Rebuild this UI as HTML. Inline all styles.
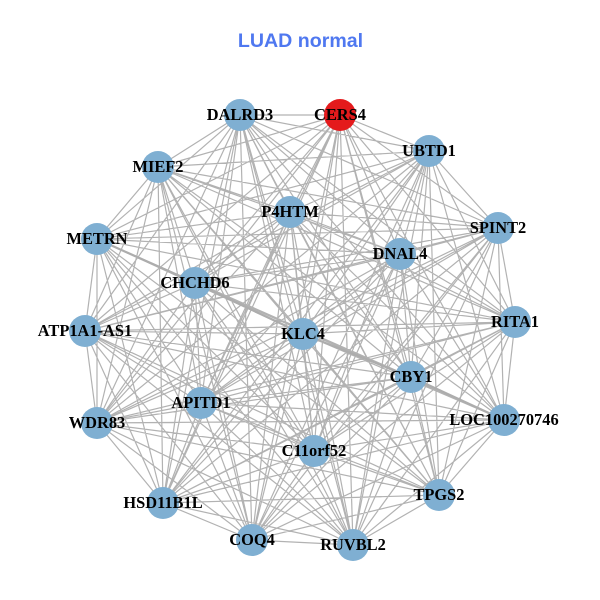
<!DOCTYPE html>
<html><head><meta charset="utf-8"><style>
html,body{margin:0;padding:0;background:#fff}
svg{display:block}
.l text{font:bold 16.4px "Liberation Serif",serif;text-anchor:middle;fill:#000}
circle{fill:#7fafd2}
</style></head><body>
<svg width="600" height="600" viewBox="0 0 600 600" xmlns="http://www.w3.org/2000/svg">
<rect width="600" height="600" fill="#fff"/>
<text x="300.500" y="47" text-anchor="middle" style="font:bold 19.6px 'Liberation Sans',sans-serif" fill="#4f78f0">LUAD normal</text>
<path fill="none" stroke="#b2b2b2" stroke-width="1.2" d="
M340 115L429 151M340 115L498 228M340 115L515 322M340 115L504 420M340 115L439 495M340 115L353 545M340 115L252 540M340 115L163 503M340 115L97 423M340 115L85 331M340 115L97 239M340 115L158 167M340 115L240 115M340 115L290 212M340 115L400 254M340 115L195 283M340 115L303 334M340 115L411 377M340 115L201 403M340 115L314 451
M429 151L498 228M429 151L515 322M429 151L504 420M429 151L439 495M429 151L353 545M429 151L252 540M429 151L163 503M429 151L97 423M429 151L85 331M429 151L97 239M429 151L158 167M429 151L240 115M429 151L290 212M429 151L400 254M429 151L195 283M429 151L303 334M429 151L411 377M429 151L201 403M429 151L314 451
M498 228L515 322M498 228L504 420M498 228L439 495M498 228L353 545M498 228L252 540M498 228L163 503M498 228L97 423M498 228L85 331M498 228L97 239M498 228L158 167M498 228L240 115M498 228L290 212M498 228L400 254M498 228L195 283M498 228L303 334M498 228L411 377M498 228L201 403M498 228L314 451
M515 322L504 420M515 322L439 495M515 322L353 545M515 322L252 540M515 322L163 503M515 322L97 423M515 322L85 331M515 322L97 239M515 322L158 167M515 322L240 115M515 322L290 212M515 322L400 254M515 322L195 283M515 322L303 334M515 322L411 377M515 322L201 403M515 322L314 451
M504 420L439 495M504 420L353 545M504 420L252 540M504 420L163 503M504 420L97 423M504 420L85 331M504 420L97 239M504 420L158 167M504 420L240 115M504 420L290 212M504 420L400 254M504 420L195 283M504 420L303 334M504 420L411 377M504 420L201 403M504 420L314 451
M439 495L353 545M439 495L252 540M439 495L163 503M439 495L97 423M439 495L85 331M439 495L97 239M439 495L158 167M439 495L240 115M439 495L290 212M439 495L400 254M439 495L195 283M439 495L303 334M439 495L411 377M439 495L201 403M439 495L314 451
M353 545L252 540M353 545L163 503M353 545L97 423M353 545L85 331M353 545L97 239M353 545L158 167M353 545L240 115M353 545L290 212M353 545L400 254M353 545L195 283M353 545L303 334M353 545L411 377M353 545L201 403M353 545L314 451
M252 540L163 503M252 540L97 423M252 540L85 331M252 540L97 239M252 540L158 167M252 540L240 115M252 540L290 212M252 540L400 254M252 540L195 283M252 540L303 334M252 540L411 377M252 540L201 403M252 540L314 451
M163 503L97 423M163 503L85 331M163 503L97 239M163 503L158 167M163 503L240 115M163 503L290 212M163 503L400 254M163 503L195 283M163 503L303 334M163 503L411 377M163 503L201 403M163 503L314 451
M97 423L85 331M97 423L97 239M97 423L158 167M97 423L240 115M97 423L290 212M97 423L400 254M97 423L195 283M97 423L303 334M97 423L411 377M97 423L201 403M97 423L314 451
M85 331L97 239M85 331L158 167M85 331L240 115M85 331L290 212M85 331L400 254M85 331L195 283M85 331L303 334M85 331L411 377M85 331L201 403M85 331L314 451
M97 239L158 167M97 239L240 115M97 239L290 212M97 239L400 254M97 239L195 283M97 239L303 334M97 239L411 377M97 239L201 403M97 239L314 451
M158 167L240 115M158 167L290 212M158 167L400 254M158 167L195 283M158 167L303 334M158 167L411 377M158 167L201 403M158 167L314 451
M240 115L290 212M240 115L400 254M240 115L195 283M240 115L303 334M240 115L411 377M240 115L201 403M240 115L314 451
M290 212L400 254M290 212L195 283M290 212L303 334M290 212L411 377M290 212L201 403M290 212L314 451
M400 254L195 283M400 254L303 334M400 254L411 377M400 254L201 403M400 254L314 451
M195 283L303 334M195 283L411 377M195 283L201 403M195 283L314 451
M303 334L411 377M303 334L201 403M303 334L314 451
M411 377L201 403M411 377L314 451
M201 403L314 451"/>
<path fill="none" stroke="#adadad" stroke-width="2.2" d="M97 239L195 283L303 334L411 377L504 420"/>
<g>
<circle cx="340" cy="115" r="16" style="fill:#e41a1c"/>
<circle cx="429" cy="151" r="16"/>
<circle cx="498" cy="228" r="16"/>
<circle cx="515" cy="322" r="16"/>
<circle cx="504" cy="420" r="16"/>
<circle cx="439" cy="495" r="16"/>
<circle cx="353" cy="545" r="16"/>
<circle cx="252" cy="540" r="16"/>
<circle cx="163" cy="503" r="16"/>
<circle cx="97" cy="423" r="16"/>
<circle cx="85" cy="331" r="16"/>
<circle cx="97" cy="239" r="16"/>
<circle cx="158" cy="167" r="16"/>
<circle cx="240" cy="115" r="16"/>
<circle cx="290" cy="212" r="16"/>
<circle cx="400" cy="254" r="16"/>
<circle cx="195" cy="283" r="16"/>
<circle cx="303" cy="334" r="16"/>
<circle cx="411" cy="377" r="16"/>
<circle cx="201" cy="403" r="16"/>
<circle cx="314" cy="451" r="16"/>
</g>
<g class="l">
<text x="340" y="120">CERS4</text>
<text x="429" y="156">UBTD1</text>
<text x="498" y="233">SPINT2</text>
<text x="515" y="327">RITA1</text>
<text x="504" y="425">LOC100270746</text>
<text x="439" y="500">TPGS2</text>
<text x="353" y="550">RUVBL2</text>
<text x="252" y="545">COQ4</text>
<text x="163" y="508">HSD11B1L</text>
<text x="97" y="428">WDR83</text>
<text x="85" y="336">ATP1A1-AS1</text>
<text x="97" y="244">METRN</text>
<text x="158" y="172">MIEF2</text>
<text x="240" y="120">DALRD3</text>
<text x="290" y="217">P4HTM</text>
<text x="400" y="259">DNAL4</text>
<text x="195" y="288">CHCHD6</text>
<text x="303" y="339">KLC4</text>
<text x="411" y="382">CBY1</text>
<text x="201" y="408">APITD1</text>
<text x="314" y="456">C11orf52</text>
</g>
</svg>
</body></html>
